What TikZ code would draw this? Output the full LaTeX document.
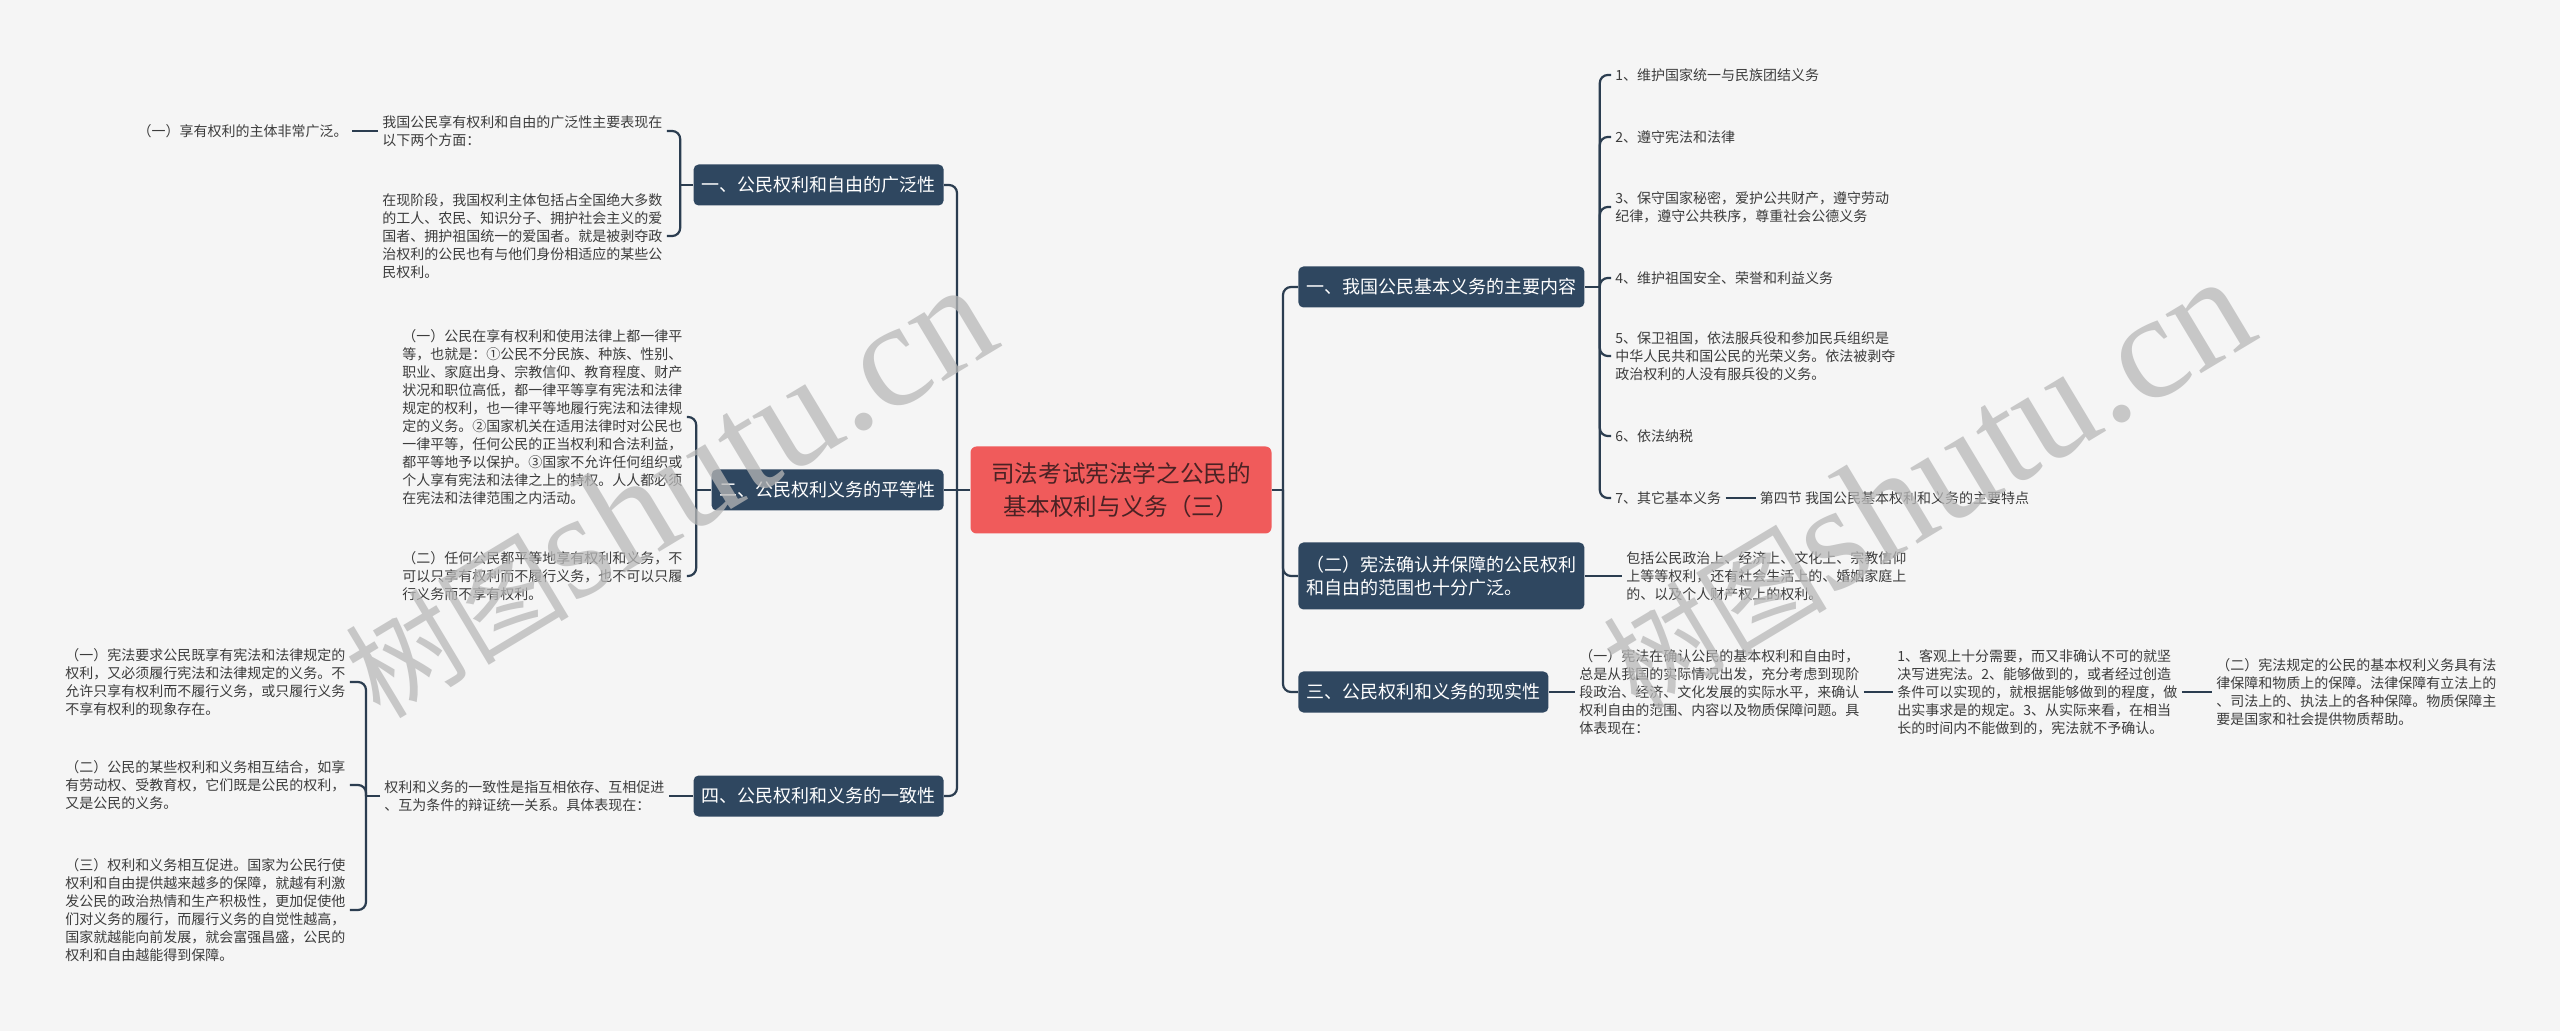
\documentclass[tikz,border=0pt]{standalone}
\usepackage{fontspec}
\setmainfont{Noto Sans CJK SC}
\newfontfamily\wmserif{Liberation Serif}
\usetikzlibrary{positioning}

\definecolor{bgcol}{HTML}{F5F5F5}
\definecolor{rootcol}{HTML}{F05B5B}
\definecolor{roottext}{HTML}{4A2224}
\definecolor{boxcol}{HTML}{2F4760}
\definecolor{linecol}{HTML}{2B3D50}
\definecolor{leafcol}{HTML}{3C3C3C}
\definecolor{wmcol}{HTML}{B8B8B8}

\tikzset{
  rootbox/.style={fill=rootcol, text=roottext, rounded corners=3pt, align=center,
    font=\fontsize{11.8}{16.7}\selectfont, inner xsep=9pt, inner ysep=6pt,
    minimum width=150.5pt, minimum height=43.5pt},
  topic/.style={fill=boxcol, text=white, rounded corners=2.5pt, align=left,
    font=\fontsize{9}{11.5}\selectfont, inner xsep=4pt, inner ysep=3pt, minimum height=20.5pt},
  leaf/.style={text=leafcol, align=left, font=\fontsize{7}{9}\selectfont, inner sep=2pt},
  conn/.style={draw=linecol, line width=1.1pt, rounded corners=4pt},
  watermark/.style={text=wmcol, opacity=0.75, rotate=31, inner sep=0pt}
}

\begin{document}
\begin{tikzpicture}[x=0.5pt, y=-0.5pt]
			% 背景
			\fill[bgcol] (0,0) rectangle (2560,1031);
			\useasboundingbox (0,0) rectangle (2560,1031);
			% 中心主题
			\node[rootbox] (root) at (1121,490) {司法考试宪法学之公民的\\基本权利与义务（三）};
			% 左侧三个分支
			\node[topic, anchor=east] (zuo1) at (944,185) {一、公民权利和自由的广泛性};
			\node[topic, anchor=east] (zuo2) at (944,490) {二、公民权利义务的平等性};
			\node[topic, anchor=east] (zuo3) at (944,796) {四、公民权利和义务的一致性};
			% 右侧三个分支
			\node[topic, anchor=west] (you1) at (1298,287) {一、我国公民基本义务的主要内容};
			\node[topic, anchor=west, minimum height=33.5pt] (you2) at (1298,576) {（二）宪法确认并保障的公民权利\\和自由的范围也十分广泛。};
			\node[topic, anchor=west] (you3) at (1298,692) {三、公民权利和义务的现实性};
			% 广泛性
			\node[leaf, anchor=west] (gf1) at (378,131) {我国公民享有权利和自由的广泛性主要表现在\\以下两个方面：};
			\node[leaf, anchor=east] (gf0) at (352,131) {（一）享有权利的主体非常广泛。};
			\node[leaf, anchor=west] (gf2) at (378,236) {在现阶段，我国权利主体包括占全国绝大多数\\的工人、农民、知识分子、拥护社会主义的爱\\国者、拥护祖国统一的爱国者。就是被剥夺政\\治权利的公民也有与他们身份相适应的某些公\\民权利。};
			% 平等性
			\node[leaf, anchor=west] (pd1) at (398,417) {（一）公民在享有权利和使用法律上都一律平\\等，也就是：①公民不分民族、种族、性别、\\职业、家庭出身、宗教信仰、教育程度、财产\\状况和职位高低，都一律平等享有宪法和法律\\规定的权利，也一律平等地履行宪法和法律规\\定的义务。②国家机关在适用法律时对公民也\\一律平等，任何公民的正当权利和合法利益，\\都平等地予以保护。③国家不允许任何组织或\\个人享有宪法和法律之上的特权。人人都必须\\在宪法和法律范围之内活动。};
			\node[leaf, anchor=west] (pd2) at (398,576) {（二）任何公民都平等地享有权利和义务，不\\可以只享有权利而不履行义务，也不可以只履\\行义务而不享有权利。};
			% 一致性
			\node[leaf, anchor=west] (yz0) at (380,796) {权利和义务的一致性是指互相依存、互相促进\\、互为条件的辩证统一关系。具体表现在：};
			\node[leaf, anchor=west] (yz1) at (61,682) {（一）宪法要求公民既享有宪法和法律规定的\\权利，又必须履行宪法和法律规定的义务。不\\允许只享有权利而不履行义务，或只履行义务\\不享有权利的现象存在。};
			\node[leaf, anchor=west] (yz2) at (61,785) {（二）公民的某些权利和义务相互结合，如享\\有劳动权、受教育权，它们既是公民的权利，\\又是公民的义务。};
			\node[leaf, anchor=west] (yz3) at (61,910) {（三）权利和义务相互促进。国家为公民行使\\权利和自由提供越来越多的保障，就越有利激\\发公民的政治热情和生产积极性，更加促使他\\们对义务的履行，而履行义务的自觉性越高，\\国家就越能向前发展，就会富强昌盛，公民的\\权利和自由越能得到保障。};
			% 基本义务
			\node[leaf, anchor=west] (yw1) at (1611,75) {1、维护国家统一与民族团结义务};
			\node[leaf, anchor=west] (yw2) at (1611,137) {2、遵守宪法和法律};
			\node[leaf, anchor=west] (yw3) at (1611,207) {3、保守国家秘密，爱护公共财产，遵守劳动\\纪律，遵守公共秩序，尊重社会公德义务};
			\node[leaf, anchor=west] (yw4) at (1611,278) {4、维护祖国安全、荣誉和利益义务};
			\node[leaf, anchor=west] (yw5) at (1611,356) {5、保卫祖国，依法服兵役和参加民兵组织是\\中华人民共和国公民的光荣义务。依法被剥夺\\政治权利的人没有服兵役的义务。};
			\node[leaf, anchor=west] (yw6) at (1611,436) {6、依法纳税};
			\node[leaf, anchor=west] (yw7) at (1611,498) {7、其它基本义务};
			\node[leaf, right=15pt of yw7] (yw8) {第四节 我国公民基本权利和义务的主要特点};
			% 范围
			\node[leaf, anchor=west] (fw1) at (1622,576) {包括公民政治上、经济上、文化上、宗教信仰\\上等等权利，还有社会生活上的、婚姻家庭上\\的、以及个人财产权上的权利。};
			% 现实性
			\node[leaf, anchor=west] (xs1) at (1575,692) {（一）宪法在确认公民的基本权利和自由时，\\总是从我国的实际情况出发，充分考虑到现阶\\段政治、经济、文化发展的实际水平，来确认\\权利自由的范围、内容以及物质保障问题。具\\体表现在：};
			\node[leaf, anchor=west] (xs2) at (1893,692) {1、客观上十分需要，而又非确认不可的就坚\\决写进宪法。2、能够做到的，或者经过创造\\条件可以实现的，就根据能够做到的程度，做\\出实事求是的规定。3、从实际来看，在相当\\长的时间内不能做到的，宪法就不予确认。};
			\node[leaf, anchor=west] (xs3) at (2212,692) {（二）宪法规定的公民的基本权利义务具有法\\律保障和物质上的保障。法律保障有立法上的\\、司法上的、执法上的各种保障。物质保障主\\要是国家和社会提供物质帮助。};
			% 连线：中心到分支
			\coordinate (lj) at (957,490);
			\coordinate (rj) at (1283,490);
			\draw[conn] (root.west) -- (lj);
			\draw[conn] (lj) |- (zuo1.east);
			\draw[conn] (lj) -- (zuo2.east);
			\draw[conn] (lj) |- (zuo3.east);
			\draw[conn] (root.east) -- (rj);
			\draw[conn] (rj) |- (you1.west);
			\draw[conn] (rj) |- (you2.west);
			\draw[conn] (rj) |- (you3.west);
			% 连线：左侧
			\draw[conn] (zuo1.west) -- ++(-13,0) coordinate (s1);
			\draw[conn] (s1) |- (gf1.east);
			\draw[conn] (s1) |- (gf2.east);
			\draw[conn] (gf1.west) -- (gf0.east);
			\draw[conn] (zuo2.west) -- ++(-15,0) coordinate (s2);
			\draw[conn] (s2) |- (pd1.east);
			\draw[conn] (s2) |- (pd2.east);
			\draw[conn] (zuo3.west) -- (yz0.east);
			\draw[conn] (yz0.west) -- ++(-14,0) coordinate (s3);
			\draw[conn] (s3) |- (yz1.east);
			\draw[conn] (s3) |- (yz2.east);
			\draw[conn] (s3) |- (yz3.east);
			% 连线：右侧
			\draw[conn] (you1.east) -- ++(15,0) coordinate (s4);
			\foreach \k in {1,...,7}
				\draw[conn] (s4) |- (yw\k.west);
			\draw[conn] (yw7.east) -- (yw8.west);
			\draw[conn] (you2.east) -- (fw1.west);
			\draw[conn] (you3.east) -- (xs1.west);
			\draw[conn] (xs1.east) -- (xs2.west);
			\draw[conn] (xs2.east) -- (xs3.west);
			% 水印
			\node[watermark] (wm1) at (668,492) {{\fontsize{56}{56}\selectfont 树图}{\wmserif\fontsize{75}{75}\selectfont shutu.cn}};
			\node[watermark] (wm2) at (1926,484) {{\fontsize{56}{56}\selectfont 树图}{\wmserif\fontsize{75}{75}\selectfont shutu.cn}};
		\end{tikzpicture}
\end{document}
